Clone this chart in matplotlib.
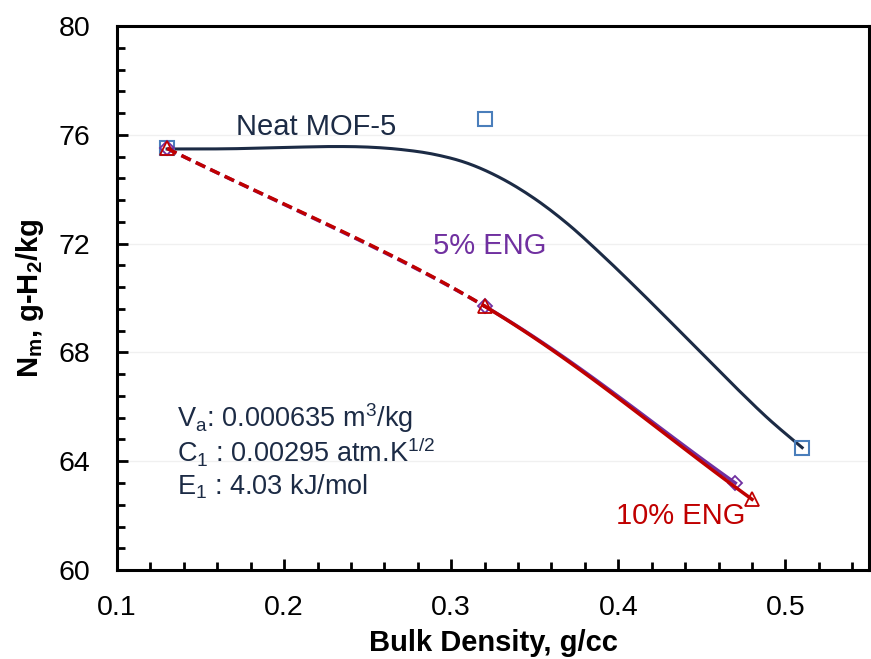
import numpy as np
import matplotlib
matplotlib.use("Agg")
import matplotlib.pyplot as plt
from matplotlib.ticker import MultipleLocator

plt.rcParams['font.family'] = ['Liberation Sans', 'DejaVu Sans']
plt.rcParams['mathtext.default'] = 'regular'

# ---- data ----
mof_x = [0.13, 0.32, 0.51]
mof_y = [75.5, 76.6, 64.5]
mof_model_x = [0.13, 0.15, 0.17, 0.19, 0.21, 0.23, 0.25, 0.27, 0.29, 0.31,
               0.33, 0.35, 0.37, 0.39, 0.41, 0.43, 0.45, 0.47, 0.49, 0.51]
mof_model_y = [75.48, 75.48, 75.49, 75.52, 75.55, 75.57, 75.55, 75.46, 75.28, 74.95,
               74.40, 73.65, 72.71, 71.60, 70.42, 69.20, 67.96, 66.73, 65.55, 64.5]
eng5_x = [0.13, 0.32, 0.47]
eng5_y = [75.5, 69.7, 63.2]
eng10_x = [0.13, 0.32, 0.48]
eng10_y = [75.5, 69.7, 62.6]
x_ticks = [0.1, 0.2, 0.3, 0.4, 0.5]
y_ticks = [60, 64, 68, 72, 76, 80]

NAVY = '#1c2b45'
BLUE = '#4a7ebb'
PURPLE = '#7030a0'
RED = '#c00000'


def smooth(xs, ys, n=30):
    """Catmull-Rom rendering of a polyline (display smoothing, like Excel)."""
    xs = np.asarray(xs, float); ys = np.asarray(ys, float)
    P = np.column_stack([xs, ys])
    P = np.vstack([P[0] + (P[0] - P[1]), P, P[-1] + (P[-1] - P[-2])])
    segs = []
    for i in range(1, len(P) - 2):
        p0, p1, p2, p3 = P[i - 1], P[i], P[i + 1], P[i + 2]
        t = np.linspace(0, 1, n)[:, None]
        pts = 0.5 * ((2 * p1) + (-p0 + p2) * t + (2 * p0 - 5 * p1 + 4 * p2 - p3) * t ** 2
                     + (-p0 + 3 * p1 - 3 * p2 + p3) * t ** 3)
        segs.append(pts)
    return segs


fig = plt.figure(figsize=(8.71, 6.59), dpi=100)
ax = fig.add_axes([0.1343, 0.135, 0.8634, 0.8255])

ax.set_xlim(0.1, 0.55)
ax.set_ylim(60, 80)
ax.set_xticks(x_ticks)
ax.set_yticks(y_ticks)
ax.xaxis.set_minor_locator(MultipleLocator(0.02))
ax.yaxis.set_minor_locator(MultipleLocator(0.8))
ax.set_xticklabels([f"{v:.1f}" for v in x_ticks])
ax.set_yticklabels([str(v) for v in y_ticks])
ax.tick_params(axis='both', which='major', direction='in', length=8, width=2,
               labelsize=20.5, top=False, right=False)
ax.tick_params(axis='x', which='major', pad=18)
ax.tick_params(axis='y', which='major', pad=19)
ax.tick_params(axis='both', which='minor', direction='in', length=6, width=2,
               top=False, right=False)
for s in ax.spines.values():
    s.set_linewidth(2.2)
    s.set_color('black')
ax.grid(axis='y', which='major', color='#f0f0f0', linewidth=1)
ax.set_axisbelow(True)

# Neat MOF-5 model curve
pts = np.vstack(smooth(mof_model_x, mof_model_y, n=12))
ax.plot(pts[:, 0], pts[:, 1], color=NAVY, lw=2.2, zorder=3)
ax.plot(mof_x, mof_y, ls='none', marker='s', ms=10, mfc='none', mec=BLUE, mew=1.5, zorder=4)

# 5% ENG
s5 = smooth(eng5_x, eng5_y)
ax.plot(s5[0][:, 0], s5[0][:, 1], color=PURPLE, lw=2.5, ls=(0, (3, 1.6)), zorder=3)
ax.plot(s5[1][:, 0], s5[1][:, 1], color=PURPLE, lw=2.5, zorder=3)
ax.plot(eng5_x, eng5_y, ls='none', marker='D', ms=7, mfc='none', mec=PURPLE, mew=1.3, zorder=4)

# 10% ENG
s10 = smooth(eng10_x, eng10_y)
ax.plot(s10[0][:, 0], s10[0][:, 1], color=RED, lw=2.5, ls=(0, (3, 1.6)), zorder=5)
ax.plot(s10[1][:, 0], s10[1][:, 1], color=RED, lw=2.5, zorder=5)
ax.plot(eng10_x, eng10_y, ls='none', marker='^', ms=10, mfc='none', mec=RED, mew=1.3, zorder=6)

# labels
ax.text(0.219, 76.3, 'Neat MOF-5', color=NAVY, fontsize=21, ha='center', va='center')
ax.text(0.323, 71.9, '5% ENG', color=PURPLE, fontsize=21, ha='center', va='center')
ax.text(0.4376, 62.0, '10% ENG', color=RED, fontsize=21, ha='center', va='center')

ax.text(0.1357, 65.6, 'V$_a$: 0.000635 m$^3$/kg', color=NAVY, fontsize=19.5, ha='left', va='center')
ax.text(0.1357, 64.34, 'C$_1$ : 0.00295 atm.K$^{1/2}$', color=NAVY, fontsize=19.5, ha='left', va='center')
ax.text(0.1357, 63.05, 'E$_1$ : 4.03 kJ/mol', color=NAVY, fontsize=19.5, ha='left', va='center')

ax.set_xlabel('Bulk Density, g/cc', fontsize=21, fontweight='bold', labelpad=6)
ax.set_ylabel('N$_m$, g-H$_2$/kg', fontsize=21, fontweight='bold', labelpad=9)

fig.savefig('out.png', dpi=100)
